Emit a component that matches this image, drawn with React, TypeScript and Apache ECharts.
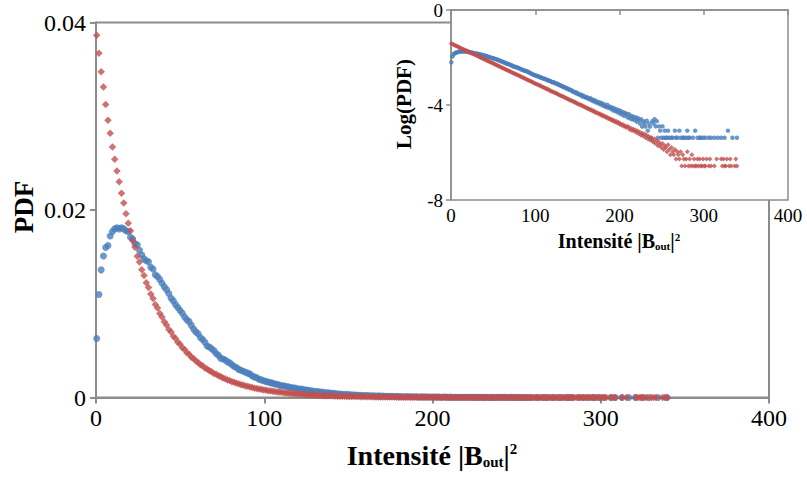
import React, { useEffect, useRef } from "react";
import * as echarts from "echarts";

// Histogram bins: centre of bin i = BIN_START + i * BIN_WIDTH
const BIN_START = 0.4;
const BIN_WIDTH = 1.34;

// log10(PDF) of the blue series (null = empty bin)
const BLUE_LOG: (number | null)[] = [
  -2.201, -1.959, -1.866, -1.821, -1.796, -1.790, -1.764, -1.752, -1.745, -1.742,
  -1.745, -1.742, -1.745, -1.750, -1.752, -1.767, -1.772, -1.785, -1.788, -1.804,
  -1.818, -1.830, -1.836, -1.839, -1.857, -1.863, -1.883, -1.889, -1.900, -1.914,
  -1.928, -1.939, -1.955, -1.975, -1.987, -2.004, -2.018, -2.032, -2.046, -2.066,
  -2.081, -2.092, -2.114, -2.137, -2.155, -2.167, -2.194, -2.208, -2.229, -2.260,
  -2.268, -2.284, -2.301, -2.328, -2.347, -2.377, -2.387, -2.398, -2.420, -2.432,
  -2.456, -2.481, -2.495, -2.523, -2.538, -2.553, -2.569, -2.585, -2.602, -2.638,
  -2.658, -2.678, -2.710, -2.726, -2.750, -2.764, -2.78, -2.80, -2.815, -2.84,
  -2.85, -2.88, -2.90, -2.90, -2.93, -2.945, -2.97, -2.98, -3.00, -3.03,
  -3.04, -3.05, -3.09, -3.10, -3.11, -3.15, -3.16, -3.19, -3.20, -3.24,
  -3.24, -3.27, -3.31, -3.30, -3.35, -3.36, -3.37, -3.42, -3.43, -3.45,
  -3.50, -3.47, -3.54, -3.53, -3.58, -3.57, -3.64, -3.61, -3.66, -3.69,
  -3.66, -3.73, -3.75, -3.71, -3.80, -3.77, -3.84, -3.80, -3.89, -3.85,
  -3.93, -3.88, -3.97, -3.92, -4.02, -3.96, -4.05, -4.08, -3.99, -4.12,
  -4.06, -4.15, -4.10, -4.22, -4.13, -4.25, -4.18, -4.30, -4.21, -4.35,
  -4.25, -4.40, -4.30, -4.45, -4.33, -4.40, -4.52, -4.38, -4.56, -4.45,
  -4.60, -4.48, -4.62, -4.52, -4.70, -4.55, -4.62, -4.78, -4.60, -4.91,
  -4.68, -4.78, -4.91, -4.66, -5.08, -4.78, -4.91, -5.38, -4.68, -4.78,
  -4.60, -4.90, -4.68, -5.38, -4.90, -5.08, -5.38, -4.90, -5.38, -5.08,
  -5.38, -5.38, -5.08, -5.38, null, -5.38, -5.38, null, -5.08, -5.38,
  -5.38, null, -5.08, -5.38, null, -5.38, -5.38, null, -5.38, -5.08,
  -5.38, -5.38, null, null, -5.38, null, -5.08, null, -5.38, null,
  -5.38, -5.38, null, -5.38, null, -5.38, null, null, -5.38, null,
  -5.38, null, null, -5.38, null, null, -5.38, null, null, -5.38,
  null, null, -5.38, null, null, -5.08, null, null, null, -5.38,
  null, null, null, -5.38,
];

// log10(PDF) of the red series (null = empty bin)
const RED_LOG: (number | null)[] = [
  -1.413, -1.435, -1.459, -1.480, -1.505, -1.529, -1.550, -1.573, -1.595, -1.617,
  -1.638, -1.662, -1.683, -1.708, -1.731, -1.750, -1.777, -1.795, -1.822, -1.840,
  -1.866, -1.886, -1.912, -1.931, -1.957, -1.976, -2.003, -2.020, -2.048, -2.066,
  -2.093, -2.111, -2.139, -2.156, -2.184, -2.201, -2.229, -2.246, -2.275, -2.291,
  -2.320, -2.336, -2.366, -2.381, -2.410, -2.427, -2.456, -2.471, -2.502, -2.517,
  -2.546, -2.562, -2.592, -2.607, -2.637, -2.652, -2.683, -2.697, -2.728, -2.742,
  -2.773, -2.787, -2.819, -2.832, -2.864, -2.878, -2.909, -2.922, -2.955, -2.968,
  -3.000, -3.012, -3.046, -3.058, -3.091, -3.103, -3.137, -3.147, -3.182, -3.192,
  -3.226, -3.240, -3.262, -3.295, -3.308, -3.338, -3.352, -3.385, -3.398, -3.430,
  -3.441, -3.476, -3.489, -3.521, -3.531, -3.566, -3.577, -3.612, -3.622, -3.657,
  -3.665, -3.704, -3.712, -3.750, -3.756, -3.795, -3.800, -3.840, -3.846, -3.884,
  -3.888, -3.933, -3.936, -3.978, -3.980, -4.025, -4.024, -4.068, -4.071, -4.115,
  -4.112, -4.160, -4.158, -4.208, -4.203, -4.252, -4.246, -4.300, -4.291, -4.344,
  -4.334, -4.392, -4.379, -4.437, -4.424, -4.486, -4.467, -4.530, -4.512, -4.578,
  -4.555, -4.624, -4.600, -4.670, -4.645, -4.718, -4.686, -4.762, -4.730, -4.810,
  -4.79, -4.85, -4.82, -4.90, -4.87, -4.95, -4.91, -4.93, -5.03, -4.98,
  -5.07, -5.01, -5.10, -5.05, -5.16, -5.09, -5.21, -5.15, -5.27, -5.19,
  -5.31, -5.22, -5.37, -5.27, -5.42, -5.33, -5.47, -5.39, -5.49, -5.57,
  -5.42, -5.62, -5.49, -5.72, -5.57, -5.67, -5.79, -5.62, -5.87, -5.72,
  -5.79, -5.97, -5.67, -5.87, -6.09, -5.79, -5.97, -6.09, -5.87, -6.27,
  -5.97, -6.09, -6.27, -5.97, -6.57, -6.09, -6.27, -6.57, -6.27, -5.97,
  -6.57, -6.27, -6.57, -6.09, -6.57, -6.27, -6.57, -6.57, -6.27, -6.57,
  -6.27, -6.57, -6.57, -6.27, -6.57, -6.57, -6.27, null, -6.57, -6.27,
  -6.57, null, null, -6.57, null, -6.27, null, null, null, -6.27,
  -6.57, -6.27, -6.57, -6.57, -6.27, null, -6.57, -6.27, -6.57, null,
  null, -6.57, -6.27, -6.57,
];

const MAIN_X_TICKS = [0, 400, 100];
const MAIN_Y_TICKS = [0, 0.04, 0.02];
const INSET_X_TICKS = [0, 400, 100];
const INSET_Y_TICKS = [-8, 0, 4];

const BLUE = "#4a7ebb";
const RED = "#c0504d";
const AXIS = "#8c8c8c";
const FONT = "'Liberation Serif', 'Times New Roman', serif";

function binPoints(logs: (number | null)[], toLinear: boolean) {
  const out: number[][] = [];
  logs.forEach((v, i) => {
    if (v === null) return;
    const x = BIN_START + i * BIN_WIDTH;
    out.push([x, toLinear ? Math.pow(10, v) : v]);
  });
  return out;
}

export default function App() {
  const ref = useRef<HTMLDivElement>(null);

  useEffect(() => {
    if (!ref.current) return;
    const chart = echarts.init(ref.current, undefined, { renderer: "svg" });

    const axisLine = { show: true, lineStyle: { color: AXIS, width: 2 } };
    const axisTick = { show: true, length: 6, lineStyle: { color: AXIS, width: 2 } };

    const titleRich = (big: number, small: number) => ({
      a: { fontFamily: FONT, fontWeight: "bold", fontSize: big, fill: "#000" },
      b: { fontFamily: FONT, fontWeight: "bold", fontSize: small, fill: "#000", verticalAlign: "bottom" },
      c: { fontFamily: FONT, fontWeight: "bold", fontSize: small, fill: "#000", verticalAlign: "top" },
    });

    chart.setOption({
      animation: false,
      backgroundColor: "#fff",
      grid: [
        {
          left: 96, top: 22.5, width: 673, height: 375,
          show: true, borderColor: AXIS, borderWidth: 2, backgroundColor: "transparent", z: 0,
        },
        {
          left: 451, top: 10, width: 337, height: 190,
          show: true, borderColor: AXIS, borderWidth: 1.5, backgroundColor: "#fff", z: 3,
        },
      ],
      xAxis: [
        {
          gridIndex: 0, type: "value",
          min: MAIN_X_TICKS[0], max: MAIN_X_TICKS[1], interval: MAIN_X_TICKS[2],
          axisLine, axisTick, splitLine: { show: false },
          axisLabel: { fontFamily: FONT, fontSize: 24, color: "#000", margin: 8 },
        },
        {
          gridIndex: 1, type: "value", z: 4,
          min: INSET_X_TICKS[0], max: INSET_X_TICKS[1], interval: INSET_X_TICKS[2],
          axisLine: { show: true, lineStyle: { color: AXIS, width: 1.5 } },
          axisTick: { show: true, length: 5, lineStyle: { color: AXIS, width: 1.5 } },
          splitLine: { show: false },
          axisLabel: { fontFamily: FONT, fontSize: 19, color: "#000", margin: 6 },
        },
      ],
      yAxis: [
        {
          gridIndex: 0, type: "value",
          min: MAIN_Y_TICKS[0], max: MAIN_Y_TICKS[1], interval: MAIN_Y_TICKS[2],
          axisLine, axisTick, splitLine: { show: false },
          axisLabel: {
            fontFamily: FONT, fontSize: 24, color: "#000", margin: 10,
            formatter: (v: number) => (v === 0 ? "0" : v.toFixed(2)),
          },
        },
        {
          gridIndex: 1, type: "value", z: 4,
          min: INSET_Y_TICKS[0], max: INSET_Y_TICKS[1], interval: INSET_Y_TICKS[2],
          axisLine: { show: true, lineStyle: { color: AXIS, width: 1.5 } },
          axisTick: { show: true, length: 5, lineStyle: { color: AXIS, width: 1.5 } },
          splitLine: { show: false },
          axisLabel: { fontFamily: FONT, fontSize: 19, color: "#000", margin: 8 },
        },
      ],
      series: [
        {
          type: "scatter", xAxisIndex: 0, yAxisIndex: 0, z: 2,
          symbol: "circle", symbolSize: 7,
          itemStyle: { color: BLUE },
          data: binPoints(BLUE_LOG, true),
        },
        {
          type: "scatter", xAxisIndex: 0, yAxisIndex: 0, z: 2,
          symbol: "diamond", symbolSize: 7.5,
          itemStyle: { color: RED },
          data: binPoints(RED_LOG, true),
        },
        {
          type: "scatter", xAxisIndex: 1, yAxisIndex: 1, z: 5,
          symbol: "circle", symbolSize: 4.5,
          itemStyle: { color: BLUE },
          data: binPoints(BLUE_LOG, false),
        },
        {
          type: "scatter", xAxisIndex: 1, yAxisIndex: 1, z: 5,
          symbol: "diamond", symbolSize: 5,
          itemStyle: { color: RED },
          data: binPoints(RED_LOG, false),
        },
      ],
      graphic: [
        {
          type: "text", x: 432, y: 455, z: 10,
          style: {
            text: "{a|Intensité |B}{b|out}{a||}{c|2}",
            rich: titleRich(28, 15),
            align: "center", verticalAlign: "middle", fill: "#000",
          },
        },
        {
          type: "text", x: 24, y: 207, rotation: Math.PI / 2, z: 10,
          style: {
            text: "PDF", fontFamily: FONT, fontWeight: "bold", fontSize: 27,
            align: "center", verticalAlign: "middle", fill: "#000",
          },
        },
        {
          type: "text", x: 619, y: 241, z: 10,
          style: {
            text: "{a|Intensité |B}{b|out}{a||}{c|2}",
            rich: titleRich(20, 11),
            align: "center", verticalAlign: "middle", fill: "#000",
          },
        },
        {
          type: "text", x: 404, y: 104, rotation: Math.PI / 2, z: 10,
          style: {
            text: "Log(PDF)", fontFamily: FONT, fontWeight: "bold", fontSize: 21,
            align: "center", verticalAlign: "middle", fill: "#000",
          },
        },
      ],
    });

    return () => chart.dispose();
  }, []);

  return (
    <div
      ref={ref}
      style={{ position: "fixed", left: 0, top: 0, width: 807, height: 477, background: "#fff" }}
    />
  );
}
